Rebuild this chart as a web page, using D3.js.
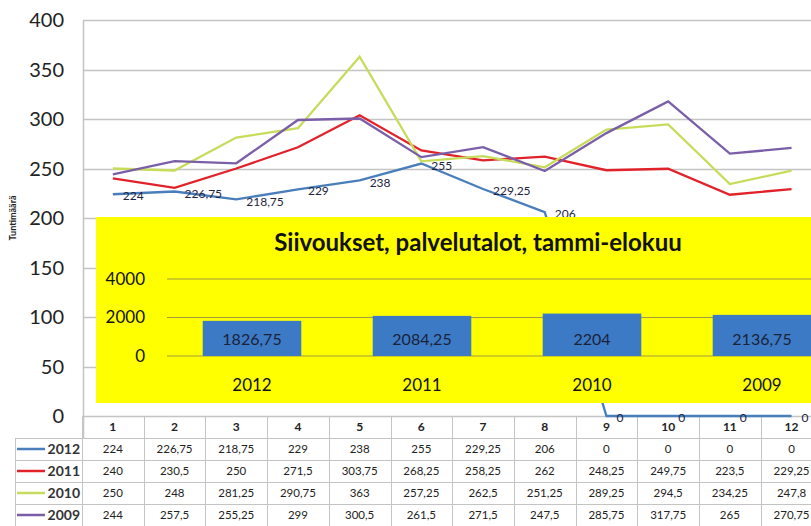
<!DOCTYPE html>
<html>
<head>
<meta charset="utf-8">
<script src="https://cdn.jsdelivr.net/npm/d3@7"></script>
<style>
	body { margin: 0; background: #fff; }
	svg { display: block; font-family: Lato, "Noto Sans", sans-serif; }
</style>
</head>
<body>
<svg id="chart" width="811" height="526"></svg>
<script>
var months = [1, 2, 3, 4, 5, 6, 7, 8, 9, 10, 11, 12];
var years = ["2012", "2011", "2010", "2009"];
var colors = ["#4a7ebb", "#e2222a", "#c6dc5a", "#7a5fa8"];
var values2012 = [224, 226.75, 218.75, 229, 238, 255, 229.25, 206, 0, 0, 0, 0];
var values2011 = [240, 230.5, 250, 271.5, 303.75, 268.25, 258.25, 262, 248.25, 249.75, 223.5, 229.25];
var values2010 = [250, 248, 281.25, 290.75, 363, 257.25, 262.5, 251.25, 289.25, 294.5, 234.25, 247.8];
var values2009 = [244, 257.5, 255.25, 299, 300.5, 261.5, 271.5, 247.5, 285.75, 317.75, 265, 270.75];
var yTicks = [0, 50, 100, 150, 200, 250, 300, 350, 400];

var insetTitle = "Siivoukset, palvelutalot, tammi-elokuu";
var totalYears = ["2012", "2011", "2010", "2009"];
var totals = [1826.75, 2084.25, 2204, 2136.75];
var insetTicks = [0, 2000, 4000];

var series = [values2012, values2011, values2010, values2009];

function fi(v)
{
	return String(v).replace(".", ",");
}

var svg = d3.select("svg#chart");

var x = d3.scaleBand().domain(months).range([82, 82 + 12*61.7]);
var y = d3.scaleLinear().domain([0, 400]).range([416, 20]);

// gridlines
var grid = svg.append("g").classed("grid", true);
grid.selectAll("line")
.data(yTicks)
.enter().append("line")
.attr("x1", 83)
.attr("x2", 811)
.attr("y1", function (d) { return Math.round(y(d)) + 0.5; })
.attr("y2", function (d) { return Math.round(y(d)) + 0.5; })
.attr("stroke", "#c4c4c4")
.attr("stroke-width", 1.5);

grid.append("line")
.attr("x1", 83.5).attr("x2", 83.5)
.attr("y1", y(400)).attr("y2", 438)
.attr("stroke", "#c4c4c4")
.attr("stroke-width", 1.5);

// y axis labels
svg.append("g")
.selectAll("text")
.data(yTicks)
.enter().append("text")
.attr("x", 64)
.attr("y", function (d) { return y(d); })
.attr("dy", "0.35em")
.attr("text-anchor", "end")
.attr("font-size", 20)
.attr("fill", "#222")
.text(function (d) { return d; });

svg.append("text")
.attr("transform", "translate(16,218) rotate(-90)")
.attr("text-anchor", "middle")
.attr("font-size", 9)
.attr("font-weight", "bold")
.attr("fill", "#222")
.text("Tuntimäärä");

// data table
var table = svg.append("g").classed("table", true);
var rowH = 22;
var tableTop = 416;
var colEdges = months.map(function (m) { return x(m); });
colEdges.push(x(12) + x.bandwidth());

colEdges.forEach(function (cx) {
	table.append("line")
	.attr("x1", Math.round(cx) + 0.5).attr("x2", Math.round(cx) + 0.5)
	.attr("y1", tableTop).attr("y2", 526)
	.attr("stroke", "#c4c4c4");
});
table.append("line")
.attr("x1", 15.5).attr("x2", 15.5)
.attr("y1", tableTop + rowH).attr("y2", 526)
.attr("stroke", "#c4c4c4");

for (var r=1; r<=5; r++) {
	table.append("line")
	.attr("x1", 15).attr("x2", 811)
	.attr("y1", tableTop + r*rowH + 0.5).attr("y2", tableTop + r*rowH + 0.5)
	.attr("stroke", "#c4c4c4");
}

table.selectAll("text.head")
.data(months)
.enter().append("text")
.classed("head", true)
.attr("x", function (d) { return x(d) + x.bandwidth()/2; })
.attr("y", tableTop + rowH/2)
.attr("dy", "0.35em")
.attr("text-anchor", "middle")
.attr("font-size", 12)
.attr("font-weight", "bold")
.attr("fill", "#222")
.text(function (d) { return d; });

years.forEach(function (yr, i) {
	var cy = tableTop + (i + 1)*rowH + rowH/2;
	table.append("line")
	.attr("x1", 17).attr("x2", 45)
	.attr("y1", cy).attr("y2", cy)
	.attr("stroke", colors[i])
	.attr("stroke-width", 2.5);
	table.append("text")
	.attr("x", 80)
	.attr("y", cy)
	.attr("dy", "0.35em")
	.attr("text-anchor", "end")
	.attr("font-size", 14)
	.attr("font-weight", "bold")
	.attr("fill", "#333")
	.text(yr);
	table.append("g")
	.selectAll("text")
	.data(series[i])
	.enter().append("text")
	.attr("x", function (d, j) { return x(months[j]) + x.bandwidth()/2; })
	.attr("y", cy)
	.attr("dy", "0.35em")
	.attr("text-anchor", "middle")
	.attr("font-size", 11.5)
	.attr("fill", "#222")
	.text(function (d) { return fi(d); });
});

// lines
var line = d3.line()
.x(function (d, j) { return x(months[j]) + x.bandwidth()/2; })
.y(function (d) { return y(d); });

svg.append("g")
.selectAll("path")
.data(series)
.enter().append("path")
.attr("d", line)
.attr("fill", "none")
.attr("stroke", function (d, i) { return colors[i]; })
.attr("stroke-width", 2.3);

// labels of 2012
svg.append("g")
.selectAll("text")
.data(values2012)
.enter().append("text")
.attr("x", function (d, j) { return x(months[j]) + x.bandwidth()/2 + 10; })
.attr("y", function (d) { return y(d) + 2; })
.attr("dy", "0.35em")
.attr("font-size", 12)
.attr("fill", "#1d2340")
.text(function (d) { return fi(d); });

// yellow inset
var inset = svg.append("g").classed("inset", true);
inset.append("rect")
.attr("x", 96).attr("y", 217)
.attr("width", 720).attr("height", 186)
.attr("fill", "#ffff00");

inset.append("text")
.attr("x", 478)
.attr("y", 251)
.attr("text-anchor", "middle")
.attr("font-size", 24)
.attr("font-weight", "bold")
.attr("fill", "#111")
.text(insetTitle);

var bx = d3.scaleBand().domain(totalYears).range([167, 847])
.paddingInner(0.42).paddingOuter(0.21);
var by = d3.scaleLinear().domain([0, 4000]).range([356, 279]);

inset.selectAll("line.grid")
.data(insetTicks)
.enter().append("line")
.classed("grid", true)
.attr("x1", 167).attr("x2", 811)
.attr("y1", function (d) { return by(d); })
.attr("y2", function (d) { return by(d); })
.attr("stroke", "#a49c3c")
.attr("stroke-width", 1.2);

inset.selectAll("text.tick")
.data(insetTicks)
.enter().append("text")
.classed("tick", true)
.attr("x", 145)
.attr("y", function (d) { return by(d); })
.attr("dy", "0.35em")
.attr("text-anchor", "end")
.attr("font-size", 17)
.attr("fill", "#111")
.text(function (d) { return d; });

inset.selectAll("rect.bar")
.data(totals)
.enter().append("rect")
.classed("bar", true)
.attr("x", function (d, i) { return bx(totalYears[i]); })
.attr("width", bx.bandwidth())
.attr("y", function (d) { return by(d); })
.attr("height", function (d) { return by(0) - by(d); })
.attr("fill", "#3c7ac6");

inset.selectAll("text.val")
.data(totals)
.enter().append("text")
.classed("val", true)
.attr("x", function (d, i) { return bx(totalYears[i]) + bx.bandwidth()/2; })
.attr("y", 339)
.attr("dy", "0.35em")
.attr("text-anchor", "middle")
.attr("font-size", 16)
.attr("fill", "#1a2238")
.text(function (d) { return fi(d); });

inset.selectAll("text.cat")
.data(totalYears)
.enter().append("text")
.classed("cat", true)
.attr("x", function (d) { return bx(d) + bx.bandwidth()/2; })
.attr("y", 385)
.attr("dy", "0.35em")
.attr("text-anchor", "middle")
.attr("font-size", 17)
.attr("fill", "#111")
.text(function (d) { return d; });
</script>
</body>
</html>
